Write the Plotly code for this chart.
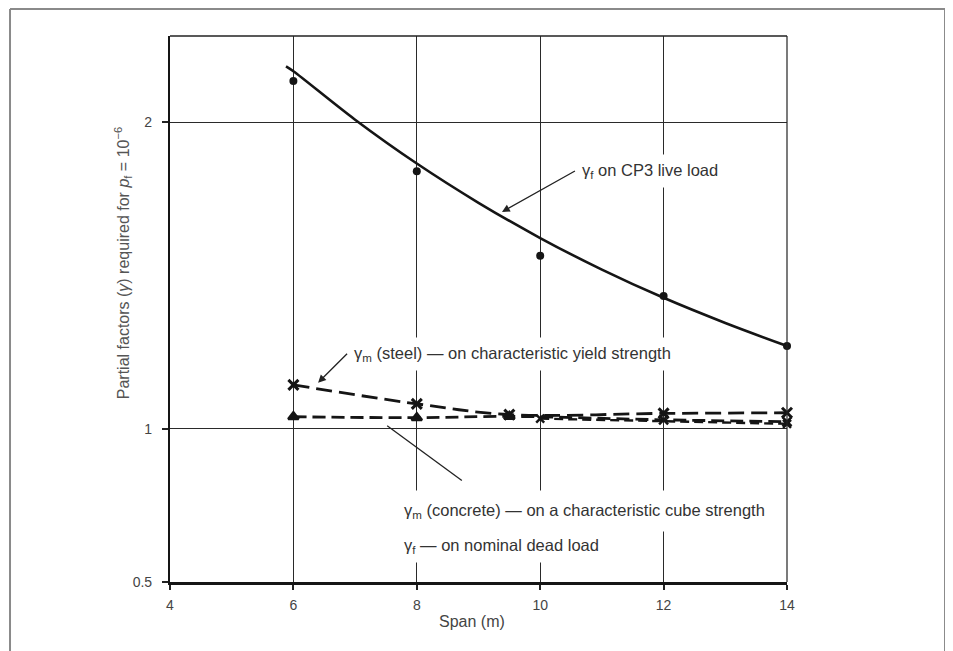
import plotly.graph_objects as go

# ---------------- data ----------------
span_points = [6, 8, 10, 12, 14]
live_load_points = [2.134, 1.840, 1.564, 1.433, 1.270]

live_curve_x = [5.88, 6, 7, 8, 9, 10, 11, 12, 13, 14]
live_curve_y = [2.182, 2.166, 2.008, 1.865, 1.737, 1.622, 1.519, 1.427, 1.345, 1.270]

steel_x = [6, 8, 9.5, 12, 14]
steel_y = [1.143, 1.081, 1.046, 1.050, 1.052]

concrete_x = [6, 8, 9.5, 12, 14]
concrete_y = [1.039, 1.036, 1.040, 1.029, 1.023]

dead_x = [10, 14]
dead_y = [1.033, 1.016]

x_ticks = [4, 6, 8, 10, 12, 14]
y_ticks = [0.5, 1, 2]
y_tick_labels = ["0.5", "1", "2"]

FONT = "Liberation Sans, Arial, Helvetica, sans-serif"
INK = "#151515"
TXT = "#333333"
LBL = 16.5

fig = go.Figure()

fig.add_trace(go.Scatter(x=live_curve_x, y=live_curve_y, mode="lines",
                         line=dict(color=INK, width=2.6, shape="spline", smoothing=1.0),
                         cliponaxis=False, showlegend=False, hoverinfo="skip"))
fig.add_trace(go.Scatter(x=span_points, y=live_load_points, mode="markers",
                         marker=dict(color=INK, size=8, symbol="circle"),
                         cliponaxis=False, showlegend=False))
fig.add_trace(go.Scatter(x=steel_x, y=steel_y, mode="lines+markers",
                         line=dict(color=INK, width=2.8, shape="spline", dash="16px,7px"),
                         marker=dict(color=INK, size=10, symbol="x-thin",
                                     line=dict(color=INK, width=3)),
                         cliponaxis=False, showlegend=False))
fig.add_trace(go.Scatter(x=concrete_x, y=concrete_y, mode="lines+markers",
                         line=dict(color=INK, width=2.8, shape="spline", dash="13px,6px"),
                         marker=dict(color=INK, size=9,
                                     symbol=["triangle-up", "triangle-up", "triangle-up", "x-thin", "x-thin"],
                                     line=dict(color=INK, width=2.5)),
                         cliponaxis=False, showlegend=False))
fig.add_trace(go.Scatter(x=dead_x, y=dead_y, mode="lines+markers",
                         line=dict(color=INK, width=2.4, dash="9px,5px"),
                         marker=dict(color=INK, size=8, symbol="x-thin",
                                     line=dict(color=INK, width=2.5)),
                         cliponaxis=False, showlegend=False))

annots = []

def pointer(x, y, ax, ay, text, pad):
    annots.append(dict(x=x, y=y, xref="x", yref="y", ax=ax, ay=ay, text=text,
                       showarrow=True, arrowhead=2, arrowsize=1.2,
                       arrowwidth=1.3, arrowcolor="#222",
                       xanchor="left", yanchor="middle", bgcolor="white",
                       borderpad=pad, font=dict(family=FONT, size=LBL, color=TXT)))

def label(x, y, text, pad):
    annots.append(dict(x=x, y=y, xref="x", yref="y", text=text, showarrow=False,
                       xanchor="left", yanchor="middle", bgcolor="white",
                       borderpad=pad, font=dict(family=FONT, size=LBL, color=TXT)))

pointer(9.38, 1.707, 73, -41, "γ<sub>f</sub> on CP3 live load", 6)
pointer(6.40, 1.150, 29, -29, "γ<sub>m</sub> (steel) — on characteristic yield strength", 6)
label(7.62, 0.733, "γ<sub>m</sub> (concrete) — on a characteristic cube strength", 10)
label(7.68, 0.616, "γ<sub>f</sub> — on nominal dead load", 6)

# axis titles
annots.append(dict(x=-0.076, y=0.584, xref="paper", yref="paper", showarrow=False,
                   textangle=-90, xanchor="center", yanchor="middle",
                   text="Partial factors (<i>γ</i>) required for <i>p</i><sub>f</sub> = 10<sup>−6</sup>",
                   font=dict(family=FONT, size=16, color="#555")))
annots.append(dict(x=0.489, y=-0.073, xref="paper", yref="paper", showarrow=False,
                   xanchor="center", yanchor="middle", text="Span (m)",
                   font=dict(family=FONT, size=16, color="#444")))

shapes = [
    # leader line for the concrete / dead-load labels
    dict(type="line", xref="x", yref="y", x0=7.52, y0=1.010, x1=8.73, y1=0.831,
         line=dict(color="#222", width=1.3)),
    # top and right borders of plot box
    dict(type="line", xref="paper", yref="paper", x0=0, x1=1, y0=1, y1=1,
         line=dict(color="#222", width=1.3)),
    dict(type="line", xref="paper", yref="paper", x0=1, x1=1, y0=0, y1=1,
         line=dict(color="#222", width=1.2)),
    # outer frame
    dict(type="line", xref="paper", yref="paper", x0=-0.2593, x1=1.2561, y0=1.0495, y1=1.0495,
         line=dict(color="#8a8a8a", width=2)),
    dict(type="line", xref="paper", yref="paper", x0=-0.2593, x1=-0.2593, y0=1.0495, y1=-0.13,
         line=dict(color="#8a8a8a", width=2)),
    dict(type="line", xref="paper", yref="paper", x0=1.2561, x1=1.2561, y0=1.0495, y1=-0.13,
         line=dict(color="#8a8a8a", width=2)),
]

fig.update_layout(
    width=945, height=643,
    margin=dict(l=162, r=166, t=28, b=69),
    paper_bgcolor="white", plot_bgcolor="white",
    font=dict(family=FONT, color="#444"),
    annotations=annots, shapes=shapes,
    xaxis=dict(range=[4, 14], tickvals=x_ticks, ticktext=[str(v) for v in x_ticks],
               showgrid=True, gridcolor="#2a2a2a", gridwidth=1,
               showline=True, linecolor="#151515", linewidth=2.5,
               ticks="outside", ticklen=5, tickwidth=1.5, tickcolor="#222",
               tickfont=dict(family=FONT, size=14, color="#444"),
               ticklabelstandoff=3, zeroline=False),
    yaxis=dict(range=[0.5, 2.281], tickvals=y_ticks, ticktext=y_tick_labels,
               showgrid=True, gridcolor="#2a2a2a", gridwidth=1,
               showline=True, linecolor="#151515", linewidth=2.2,
               ticks="outside", ticklen=6, tickwidth=1.5, tickcolor="#222",
               tickfont=dict(family=FONT, size=14, color="#444"),
               ticklabelstandoff=7, zeroline=False),
)

fig.write_html("out.html")
